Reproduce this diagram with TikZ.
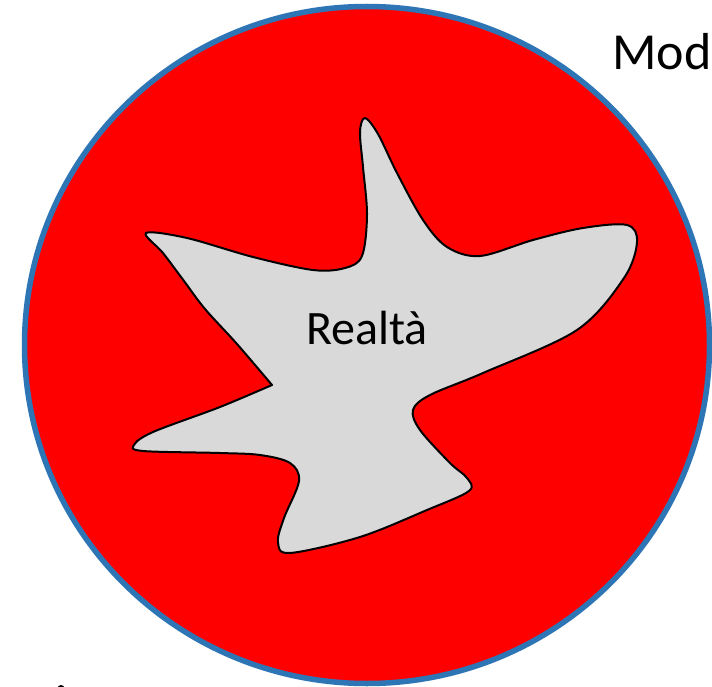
\documentclass[tikz,border=0pt]{standalone}
\usepackage{fontspec}
\setmainfont{Carlito}
\definecolor{ringblue}{RGB}{46,117,182}
\definecolor{blobgrey}{RGB}{217,217,217}
\begin{document}
\begin{tikzpicture}[x=1pt,y=-1pt,
  ring/.style={fill=red,draw=ringblue,line width=5.5pt},
  blob/.style={fill=blobgrey,draw=black,line width=2pt,line join=round},
  lbl/.style={font=\fontsize{48}{56}\selectfont,inner sep=0pt},
  title/.style={font=\fontsize{52}{60}\selectfont,inner sep=0pt}]
\useasboundingbox (0,0) rectangle (712,687);
\clip (0,0) rectangle (712,687);
\fill[white] (0,0) rectangle (712,687);
\draw[ring] (367,345) ellipse [x radius=342.5, y radius=338.5];
\draw[blob] plot[smooth,tension=0.55] coordinates {
 (272,385) (237,344) (205,309) (184,281) (163,253) (146,233)
 (187,238) (253,257) (313,270) (345,268) (362,256) (367,215)
 (363,167) (360,132) (365,118) (378,134) (397,173) (423,220)
 (447,247) (480,256) (533,240) (583,228) (627,225) (637,242)
 (624,278) (577,330) (483,373) (430,395) (413,410) (420,430)
 (450,463) (467,478) (469,491) (427,510) (360,537) (290,553)
 (278,542) (284,518) (299,481) (290,463) (260,455) (220,453)
 (143,451) (134,445) (153,432) (220,407) (272,385)} -- cycle;
\node[lbl,anchor=base] (real) at (367,344) {Realtà};
\node[title,anchor=base west] (mod) at (612,70) {Mod};
\fill[black] (61,688.5) circle (3.5);
\end{tikzpicture}
\end{document}
